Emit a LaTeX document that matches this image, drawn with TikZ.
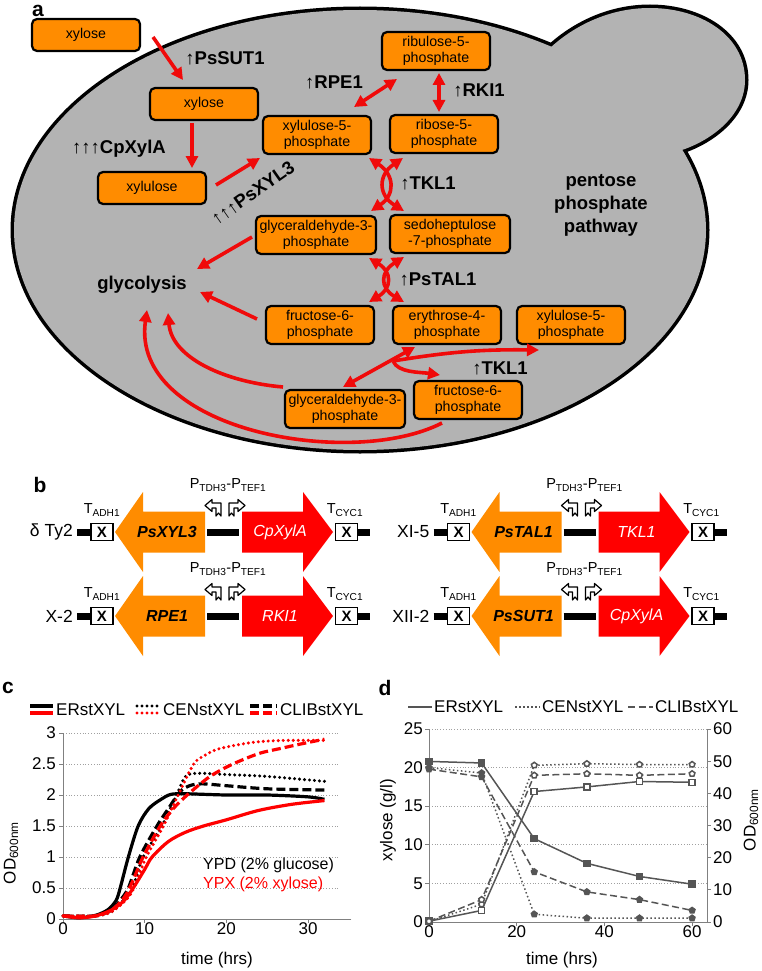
\documentclass[tikz,border=0pt]{standalone}
\usepackage{fontspec}
\setmainfont{Liberation Sans}
\usepackage{xcolor}
\usepackage{tikz}
\usetikzlibrary{arrows.meta,positioning,calc,plotmarks}

\definecolor{cellgray}{RGB}{179,179,179}
\definecolor{metorange}{RGB}{255,140,0}
\definecolor{rxnred}{RGB}{240,10,10}
\definecolor{linegray}{RGB}{85,85,85}
\definecolor{gridgray}{RGB}{160,160,160}
\definecolor{axisgray}{RGB}{128,128,128}

\begin{document}
\begin{tikzpicture}[
  x=1pt, y=-1pt,
  >={Triangle[length=12pt,width=12pt]},
  met/.style={draw,line width=2.2pt,rounded corners=5pt,fill=metorange,align=center,
    inner sep=0pt,minimum width=108pt,minimum height=38pt,font=\fontsize{14.2}{16}\selectfont},
  enz/.style={font=\bfseries\fontsize{18.5}{23}\selectfont,inner sep=0pt},
  rxn/.style={rxnred,line width=3.6pt,->},
  rxnboth/.style={rxnred,line width=3.6pt,<->},
  panel/.style={font=\bfseries\fontsize{21}{21}\selectfont,inner sep=0pt},
  locus/.style={font=\fontsize{17.5}{17.5}\selectfont,inner sep=0pt},
  term/.style={draw,line width=1.8pt,minimum width=22pt,minimum height=17pt,inner sep=0pt,
    font=\bfseries\fontsize{15}{15}\selectfont},
  slabel/.style={font=\fontsize{14.5}{14.5}\selectfont,inner sep=0pt},
  dnabar/.style={line width=7pt},
  genel/.style={font=\bfseries\itshape\fontsize{16}{16}\selectfont},
  gener/.style={text=white,font=\itshape\fontsize{16}{16}\selectfont},
  prom/.style={draw,line width=1.2pt,fill=white,line join=round},
  tick/.style={font=\fontsize{17}{17}\selectfont,inner sep=0pt},
  axis/.style={draw=axisgray,line width=1pt},
  gridln/.style={draw=gridgray,line width=0.8pt,dotted},
  cblk/.style={black,line width=3.2pt},
  cred/.style={red,line width=3.2pt},
  cdot/.style={dash pattern=on 0pt off 5pt,line cap=round,line width=3.4pt},
  cdash/.style={dash pattern=on 9pt off 4pt},
  dser/.style={linegray,line width=1.5pt,mark size=3pt},
  ddot/.style={dash pattern=on 1.5pt off 2.5pt},
  ddash/.style={dash pattern=on 7pt off 3.5pt}
]
\useasboundingbox (0,0) rectangle (761,971);

% ---------- Panel a: the cell ----------
\node[panel] (lbla) at (38,11) {a};
% outlines first, fills on top hide the inner halves
\draw[line width=7pt,line join=round] (360,230) ellipse [x radius=346,y radius=220];
\draw[line width=7pt,line join=round] (550,48) .. controls (575,25) and (610,8) .. (650,8)
  .. controls (700,8) and (745,35) .. (745,80) .. controls (745,115) and (712,140) .. (682,150)
  -- (620,130) -- cycle;
\fill[cellgray] (360,230) ellipse [x radius=346,y radius=220];
\fill[cellgray] (550,48) .. controls (575,25) and (610,8) .. (650,8)
  .. controls (700,8) and (745,35) .. (745,80) .. controls (745,115) and (712,140) .. (682,150)
  -- (620,130) -- cycle;

% Metabolites
\node[met,minimum height=32pt] (xylout) at (86,35) {xylose};
\node[met,minimum height=32pt] (xylin) at (204,104) {xylose};
\node[met,minimum height=32pt] (xylu) at (152,188) {xylulose};
\node[met] (x5p) at (317,135) {xylulose-5-\\phosphate};
\node[met] (ru5p) at (436,51) {ribulose-5-\\phosphate};
\node[met] (r5p) at (444,134) {ribose-5-\\phosphate};
\node[met,minimum width=120pt] (ga3p) at (316,235) {glyceraldehyde-3-\\phosphate};
\node[met,minimum width=120pt] (s7p) at (450,234) {sedoheptulose\\-7-phosphate};
\node[met] (f6p) at (320,325) {fructose-6-\\phosphate};
\node[met] (e4p) at (447,325) {erythrose-4-\\phosphate};
\node[met] (x5pb) at (571,325) {xylulose-5-\\phosphate};
\node[met,minimum width=120pt] (ga3pb) at (345,409) {glyceraldehyde-3-\\phosphate};
\node[met] (f6pb) at (468,400) {fructose-6-\\phosphate};

% Enzymes and pathway names
\node[enz] (sut) at (225,58) {↑PsSUT1};
\node[enz] (rpe) at (334,82) {↑RPE1};
\node[enz] (rki) at (479,90) {↑RKI1};
\node[enz] (xyla) at (119,149) {↑↑↑CpXylA};
\node[enz,rotate=35] (xyl3) at (253,193) {↑↑↑PsXYL3};
\node[enz] (tkl) at (428,183) {↑TKL1};
\node[enz] (tal) at (438,279) {↑PsTAL1};
\node[enz] (tklb) at (500,368) {↑TKL1};
\node[enz] (glyc) at (142,285) {glycolysis};
\node[enz,align=center] (ppp) at (601,205) {pentose\\phosphate\\pathway};

% Reactions
\draw[rxn] ($(xylout)+(67,2)$) -- ($(xylin)+(-21,-24)$);
\draw[rxn] ($(xylin)+(-12,19)$) -- ($(xylu)+(40,-20)$);
\draw[rxn] ($(xylu)+(64,-3)$) -- ($(x5p)+(-57,23)$);
\draw[rxnboth] ($(x5p)+(37,-28)$) -- ($(ru5p)+(-39,28)$);
\draw[rxnboth] ($(ru5p)+(3,22)$) -- ($(r5p)+(-5,-22)$);
\draw[rxnboth] ($(x5p)+(52,23)$) .. controls +(26,17) and +(24,-16) .. ($(ga3p)+(55,-24)$);
\draw[rxnboth] ($(r5p)+(-41,24)$) .. controls +(-25,17) and +(-26,-16) .. ($(s7p)+(-46,-23)$);
\draw[rxnboth] ($(ga3p)+(53,23)$) .. controls +(23,14) and +(23,-14) .. ($(f6p)+(49,-23)$);
\draw[rxnboth] ($(s7p)+(-46,23)$) .. controls +(-24,15) and +(-24,-14) .. ($(e4p)+(-43,-23)$);
\draw[rxn] ($(ga3p)+(-64,2)$) -- ($(glyc)+(55,-16)$);
\draw[rxn] ($(f6p)+(-63,-6)$) -- ($(glyc)+(58,7)$);
\coordinate (tkj) at (393,361);
\draw[rxnboth] ($(ga3pb)+(-2,-22)$) -- ($(e4p)+(-32,22)$);
\draw[rxn] (tkj) to[bend left=5] ($(x5pb)+(-32,25)$);
\draw[rxn] (tkj) .. controls +(5,12) and +(-20,-3) .. ($(f6pb)+(-28,-25)$);
\draw[rxn] ($(ga3pb)+(-62,-22)$) .. controls +(-58,-5) and +(4,45) .. ($(glyc)+(26,28)$);
\draw[rxn] ($(f6pb)+(-26,23)$) .. controls +(-92,47) and +(-17,120) .. ($(glyc)+(5,25)$);

% ---------- Panel b: integrated constructs ----------
\node[panel] (lblb) at (40,485) {b};
\foreach \cx/\cy/\locus/\gl/\gr [count=\n] in
  {0/532/δ Ty2/PsXYL3/CpXylA, 356.5/532/XI-5/PsTAL1/TKL1,
   0/616/X-2/RPE1/RKI1, 356.5/616/XII-2/PsSUT1/CpXylA} {
  \begin{scope}[shift={(\cx,\cy)}]
    \fill[metorange] (115,0) -- (143,-40) -- (143,-20.5) -- (205,-20.5) -- (205,20.5) -- (143,20.5) -- (143,40) -- cycle;
    \fill[red] (333,0) -- (303,-40) -- (303,-20.5) -- (242,-20.5) -- (242,20.5) -- (303,20.5) -- (303,40) -- cycle;
    \node[locus,anchor=east] (loc\n) at (73,0) {\locus};
    \node[term] (ta\n) at (102,0) {X};
    \node[term] (tc\n) at (346.5,0) {X};
    \node[genel] (gl\n) at (167,0) {\gl};
    \node[gener] (gr\n) at (280,0) {\gr};
    \draw[dnabar] ($(ta\n.west)+(-13,0)$) -- (ta\n.west);
    \draw[dnabar] (207,0) -- (239,0);
    \draw[dnabar] (tc\n.east) -- ++(12,0);
    \node[slabel] (tal\n) at (102,-22) {T\textsubscript{ADH1}};
    \node[slabel] (tcl\n) at (345,-22) {T\textsubscript{CYC1}};
    \node[slabel] (pl\n) at (228,-47) {P\textsubscript{TDH3}-P\textsubscript{TEF1}};
    % promoter arrows
    \draw[prom] (221,-16) -- (221,-29) -- (212,-29) -- (212,-32.5) -- (205,-26.5) -- (212,-20.5)
      -- (212,-24) -- (216,-24) -- (216,-16) -- (218.5,-19) -- cycle;
    \draw[prom] (229,-16) -- (229,-29) -- (238,-29) -- (238,-32.5) -- (245,-26.5) -- (238,-20.5)
      -- (238,-24) -- (234,-24) -- (234,-16) -- (231.5,-19) -- cycle;
  \end{scope}
}

% ---------- Panel c: growth curves ----------
\node[panel] (lblc) at (8,688) {c};
\begin{scope}[shift={(63,919)},x=8.17pt,y=62pt]
  \foreach \v in {0.5,1,...,3} \draw[gridln] (0,\v) -- (33.9,\v);
  \draw[axis] (35.3,0) -- (0,0) -- (0,3);
  \foreach \v [count=\i] in {0,0.5,1,1.5,2,2.5,3} {
    \draw[axis] (0,\v) -- ++(-4pt,0);
    \node[tick,anchor=east] (cy\i) at ([xshift=-7pt]0,\v) {\v};
  }
  \foreach \v [count=\i] in {0,10,20,30} {
    \draw[axis] (\v,0) -- ++(0,-4pt);
    \node[tick,anchor=north] (cx\i) at ([yshift=-3pt]\v,0) {\v};
  }
  % YPD (black)
  \draw[cblk] plot[smooth] coordinates {(0,0.05) (2,0.02) (4,0.06) (5.5,0.15) (6.5,0.3) (7,0.5) (8,1.0)
    (9.2,1.5) (10.5,1.78) (12,1.93) (13.2,2.01) (15,2.02) (20,2.0) (25,2.0) (30,1.97) (32,1.93)};
  \draw[cblk,cdot] plot[smooth] coordinates {(0,0.05) (4,0.05) (6,0.12) (7,0.25) (8.5,0.5) (9.8,1.0)
    (12.1,1.5) (13.9,2.0) (15,2.3) (16.5,2.35) (20,2.33) (25,2.3) (32,2.22)};
  \draw[cblk,cdash] plot[smooth] coordinates {(0,0.05) (4,0.05) (6,0.15) (7,0.3) (8,0.5) (9.4,1.0)
    (11.5,1.5) (13,1.8) (14.3,2.05) (15.5,2.15) (17,2.18) (20,2.15) (25,2.1) (32,2.08)};
  % YPX (red)
  \draw[cred] plot[smooth] coordinates {(0,0.05) (2,0.02) (4,0.05) (6,0.15) (7.5,0.3) (8.6,0.5) (10,0.8)
    (10.9,1.0) (12.9,1.25) (15,1.4) (17.2,1.5) (20,1.6) (23.9,1.75) (28,1.85) (32,1.91)};
  \draw[cred,cdot] plot[smooth] coordinates {(0,0.05) (4,0.05) (6,0.12) (8,0.35) (9,0.6) (10.2,1.0)
    (12.3,1.5) (14.1,2.0) (16,2.5) (17.5,2.65) (19.2,2.75) (23.3,2.85) (27,2.88) (32,2.88)};
  \draw[cred,cdash] plot[smooth] coordinates {(0,0.05) (4,0.05) (6,0.15) (7.5,0.35) (8.5,0.6) (9.8,1.0)
    (11.9,1.5) (13.5,1.78) (15.2,2.0) (18,2.3) (20.8,2.5) (24,2.67) (26.6,2.75) (29,2.82) (32,2.9)};
\end{scope}
% legend c
\draw[cblk] (30,706) -- (53,706);  \draw[cred] (30,713) -- (53,713);
\draw[cblk,cdot] (137,706) -- (160,706);  \draw[cred,cdot] (137,713) -- (160,713);
\draw[cblk,cdash] (250,706) -- (277,706);  \draw[cred,cdash] (250,713) -- (277,713);
\node[tick,anchor=west] (legc1) at (56,710) {ERstXYL};
\node[tick,anchor=west] (legc2) at (163,710) {CENstXYL};
\node[tick,anchor=west] (legc3) at (280,710) {CLIBstXYL};
\node[tick,anchor=west,font=\fontsize{16}{16}\selectfont] (ypd) at (203,865) {YPD (2\% glucose)};
\node[tick,anchor=west,text=red,font=\fontsize{16}{16}\selectfont] (ypx) at (203,884) {YPX (2\% xylose)};
\node[tick,rotate=90] (cylab) at (11,853) {OD\textsubscript{600nm}};
\node[tick] (cxlab) at (217,960) {time (hrs)};

% ---------- Panel d: xylose and OD ----------
\node[panel] (lbld) at (385,688) {d};
\begin{scope}[shift={(429,922)},x=4.385pt,y=7.72pt]
  \foreach \v in {5,10,...,25} \draw[gridln] (0,\v) -- (63.4,\v);
  \draw[axis] (0,25) -- (0,0) -- (63.4,0) -- (63.4,25);
  \foreach \v [count=\i] in {0,5,...,25} {
    \draw[axis] (0,\v) -- ++(-4pt,0);
    \node[tick,anchor=east] (dy\i) at ([xshift=-6pt]0,\v) {\v};
  }
  \foreach \v [count=\i] in {0,10,...,60} {
    \draw[axis] (63.4,\v/2.4) -- ++(4pt,0);
    \node[tick,anchor=west] (dr\i) at ([xshift=6pt]63.4,\v/2.4) {\v};
  }
  \foreach \v [count=\i] in {0,20,40,60} {
    \draw[axis] (\v,0) -- ++(0,-4pt);
    \node[tick,anchor=north] (dx\i) at ([yshift=-3pt]\v,0) {\v};
  }
  % xylose (filled marks)
  \draw[dser,mark=square*,mark options={solid,fill=linegray}] plot coordinates {(0,20.8) (12,20.6) (24,10.8) (36,7.6) (48,5.9) (60,4.9)};
  \draw[dser,ddot,mark=pentagon*,mark options={solid,fill=linegray}] plot coordinates {(0,20.0) (12,19.3) (24,1.0) (36,0.5) (48,0.5) (60,0.5)};
  \draw[dser,ddash,mark=pentagon*,mark options={solid,fill=linegray}] plot coordinates {(0,19.8) (12,18.8) (24,6.5) (36,3.9) (48,2.9) (60,1.5)};
  % OD (open marks)
  \draw[dser,mark=square*,mark options={solid,fill=white}] plot coordinates {(0,0.1) (12,1.5) (24,16.9) (36,17.5) (48,18.2) (60,18.1)};
  \draw[dser,ddot,mark=pentagon*,mark options={solid,fill=white}] plot coordinates {(0,0.05) (12,2.3) (24,20.3) (36,20.5) (48,20.4) (60,20.4)};
  \draw[dser,ddash,mark=pentagon*,mark options={solid,fill=white}] plot coordinates {(0,0.1) (12,2.9) (24,19.0) (36,19.2) (48,19.0) (60,19.2)};
\end{scope}
% legend d
\draw[dser] (408,707) -- (432,707);
\draw[dser,ddot] (515,707) -- (540,707);
\draw[dser,ddash] (628,707) -- (653,707);
\node[tick,anchor=west] (legd1) at (434,707) {ERstXYL};
\node[tick,anchor=west] (legd2) at (542,707) {CENstXYL};
\node[tick,anchor=west] (legd3) at (655,707) {CLIBstXYL};
\node[tick,rotate=90] (dylab) at (388,820) {xylose (g/l)};
\node[tick,rotate=90] (drlab) at (751,820) {OD\textsubscript{600nm}};
\node[tick] (dxlab) at (562,960) {time (hrs)};
\end{tikzpicture}
\end{document}
